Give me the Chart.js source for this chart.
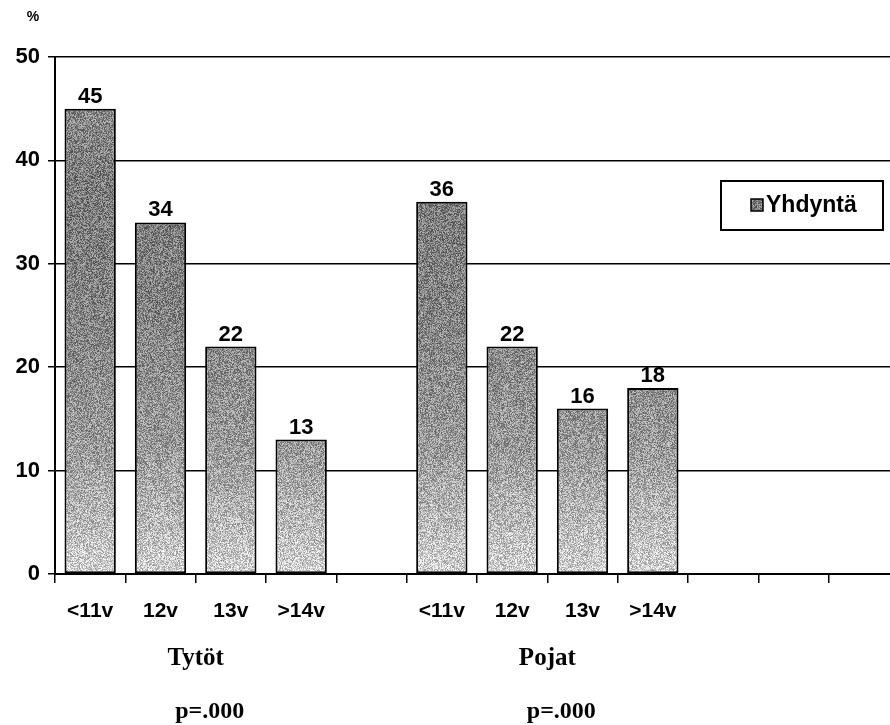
<!DOCTYPE html>
<html>
<head>
<meta charset="utf-8">
<script src="https://cdn.jsdelivr.net/npm/chart.js@4"></script>
<style>
  html, body { margin: 0; padding: 0; background: #fff; overflow: hidden; width: 890px; height: 725px; }
  canvas { display: block; }
</style>
</head>
<body>
<canvas id="chart" width="899" height="725"></canvas>
<script>
// categories (empty slots keep the gap between groups and the empty tail)
const categories = ['<11v', '12v', '13v', '>14v', '', '<11v', '12v', '13v', '>14v', '', '', ''];
const yhdyntaValues = [45, 34, 22, 13, null, 36, 22, 16, 18, null, null, null];
const groupLabels = ['Tytöt', 'Pojat'];
const groupCenters = [1.5, 6.5];
const pLabels = ['p=.000', 'p=.000'];
const yTicks = [0, 10, 20, 30, 40, 50];

// gray level of the fill by value (darker in the middle, light at the base)
const shadeStops = [[50, 150], [38, 122], [25, 132], [12, 155], [0, 210]];

let fillPattern = null;

function grain(x, y) {
  const s = Math.sin(x * 12.9898 + y * 78.233) * 43758.5453;
  return s - Math.floor(s);
}

function shadeAt(v) {
  for (let i = 0; i < shadeStops.length - 1; i++) {
    const [v0, g0] = shadeStops[i];
    const [v1, g1] = shadeStops[i + 1];
    if (v <= v0 && v >= v1) return g0 + (g1 - g0) * (v0 - v) / (v0 - v1);
  }
  return v > 50 ? shadeStops[0][1] : shadeStops[shadeStops.length - 1][1];
}

function barFill(context) {
  const chart = context.chart;
  if (!chart.chartArea) return '#999';
  if (fillPattern) return fillPattern;
  const yScale = chart.scales.y;
  const off = document.createElement('canvas');
  off.width = chart.width;
  off.height = chart.height;
  const octx = off.getContext('2d');
  const img = octx.createImageData(off.width, off.height);
  for (let y = 0; y < off.height; y++) {
    const g = shadeAt(yScale.getValueForPixel(y));
    for (let x = 0; x < off.width; x++) {
      const v = Math.max(0, Math.min(255, g + (grain(x, y) - 0.5) * 110));
      const i = (y * off.width + x) * 4;
      img.data[i] = img.data[i + 1] = img.data[i + 2] = v;
      img.data[i + 3] = 255;
    }
  }
  octx.putImageData(img, 0, 0);
  fillPattern = chart.ctx.createPattern(off, 'no-repeat');
  return fillPattern;
}

const valueLabels = {
  id: 'valueLabels',
  afterDatasetsDraw(chart) {
    const ctx = chart.ctx;
    const meta = chart.getDatasetMeta(0);
    ctx.save();
    ctx.font = 'bold 22px "Liberation Sans", Arial, sans-serif';
    ctx.fillStyle = '#000';
    ctx.textAlign = 'center';
    ctx.textBaseline = 'alphabetic';
    meta.data.forEach((bar, i) => {
      const v = yhdyntaValues[i];
      if (v === null) return;
      ctx.fillText(String(v), bar.x, bar.y - 6);
    });
    ctx.restore();
  }
};

const extras = {
  id: 'extras',
  afterDraw(chart) {
    const ctx = chart.ctx;
    const x = chart.scales.x;
    ctx.save();
    ctx.fillStyle = '#000';
    ctx.textAlign = 'center';
    ctx.textBaseline = 'alphabetic';
    ctx.font = 'bold 25px "Liberation Serif", "Times New Roman", serif';
    groupLabels.forEach((t, i) => ctx.fillText(t, x.getPixelForValue(groupCenters[i]), 665));
    ctx.font = 'bold 24px "Liberation Serif", "Times New Roman", serif';
    pLabels.forEach((t, i) => ctx.fillText(t, x.getPixelForValue(groupCenters[i]) + 14, 718));
    ctx.font = 'bold 14px "Liberation Sans", Arial, sans-serif';
    ctx.fillText('%', 33, 21);

    // legend box
    const lx = 721, ly = 181, lw = 162, lh = 49;
    ctx.fillStyle = '#fff';
    ctx.fillRect(lx, ly, lw, lh);
    ctx.strokeStyle = '#000';
    ctx.lineWidth = 2;
    ctx.strokeRect(lx, ly, lw, lh);
    ctx.fillStyle = fillPattern || '#8c8c8c';
    ctx.fillRect(751, 199, 12, 12);
    ctx.lineWidth = 1.5;
    ctx.strokeRect(751, 199, 12, 12);
    ctx.fillStyle = '#000';
    ctx.textAlign = 'left';
    ctx.textBaseline = 'middle';
    ctx.font = 'bold 23px "Liberation Sans", Arial, sans-serif';
    ctx.fillText(chart.data.datasets[0].label, 766, 206);
    ctx.restore();
  }
};

new Chart(document.getElementById('chart'), {
  type: 'bar',
  data: {
    labels: categories,
    datasets: [{
      label: 'Yhdyntä',
      data: yhdyntaValues,
      backgroundColor: barFill,
      borderColor: '#000',
      borderWidth: 2,
      borderSkipped: false,
      barPercentage: 0.73,
      categoryPercentage: 1.0
    }]
  },
  options: {
    responsive: false,
    animation: false,
    layout: { padding: { top: 57, right: 0, left: 0, bottom: 0 } },
    plugins: {
      legend: { display: false },
      tooltip: { enabled: false }
    },
    scales: {
      x: {
        grid: {
          offset: true,
          drawOnChartArea: false,
          color: '#000',
          lineWidth: 1.5,
          tickLength: 9
        },
        border: { color: '#000', width: 2 },
        ticks: {
          color: '#000',
          font: { family: '"Liberation Sans", Arial, sans-serif', size: 21, weight: 'bold' },
          padding: 16,
          maxRotation: 0,
          autoSkip: false
        },
        afterFit(scale) { scale.height = 151; }
      },
      y: {
        min: 0,
        max: 50,
        afterBuildTicks(scale) { scale.ticks = yTicks.map(v => ({ value: v })); },
        grid: {
          color: '#000',
          lineWidth: 1.5,
          tickLength: 7
        },
        border: { color: '#000', width: 2 },
        ticks: {
          color: '#000',
          font: { family: '"Liberation Sans", Arial, sans-serif', size: 22, weight: 'bold' },
          padding: 8
        },
        afterFit(scale) { scale.width = 55; }
      }
    }
  },
  plugins: [valueLabels, extras]
});
</script>
</body>
</html>
